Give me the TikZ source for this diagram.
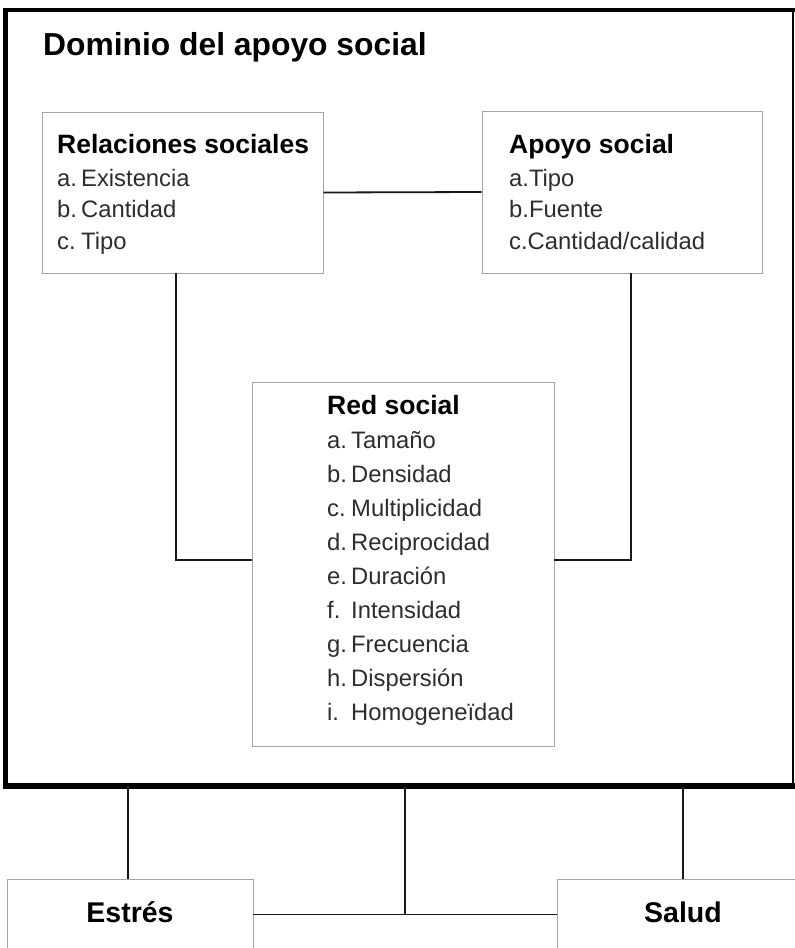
\documentclass[tikz,border=0pt]{standalone}
\usepackage{fontspec}
\setmainfont{Liberation Sans}
\usetikzlibrary{calc}
\definecolor{itemgray}{RGB}{45,45,45}
\definecolor{boxgray}{RGB}{165,165,165}
\definecolor{linecol}{RGB}{25,25,25}
\newcommand{\lbl}[2]{\makebox[24pt][l]{#1}#2}
\begin{document}
\begin{tikzpicture}[x=1pt,y=-1pt,
  box/.style={draw=boxgray, line width=0.9pt, inner sep=0pt},
  titletext/.style={anchor=base west, inner sep=0pt, font=\fontsize{31.8}{36}\selectfont\bfseries},
  headtext/.style={anchor=base west, inner sep=0pt, font=\fontsize{26.5}{30}\selectfont\bfseries},
  itemtext/.style={anchor=base west, inner sep=0pt, text=itemgray, font=\fontsize{23.8}{28}\selectfont},
  conn/.style={draw=linecol, line width=1.8pt},
  endbox/.style={box, font=\fontsize{28.5}{32}\selectfont\bfseries, text height=15pt, text depth=0pt}
]
\useasboundingbox (0,0) rectangle (795,948);
\clip (0,0) rectangle (795,948);

% outer frame
\node[inner sep=0pt, minimum width=787.5pt, minimum height=776pt] (dom) at (399.25,398) {};
\draw[line width=3.5pt, line cap=rect] (dom.north west) -- (dom.north east);
\draw[line width=2.5pt] (dom.north east) -- (dom.south east);
\draw[line width=4.5pt, line cap=rect] (dom.north west) -- (dom.south west);
\draw[line width=5.5pt, line cap=rect] (dom.south west) -- (dom.south east);

\node[titletext] (title) at (43,55) {Dominio del apoyo social};

% boxes
\node[box, minimum width=281pt, minimum height=161pt] (rel) at (182.5,192.5) {};
\node[box, minimum width=280pt, minimum height=162pt] (apo) at (622,192) {};
\node[box, minimum width=302pt, minimum height=364pt] (red) at (403,564) {};

% Relaciones sociales
\node[headtext] (relh) at (57,153) {Relaciones sociales};
\node[itemtext] (rela) at (57,186) {\lbl{a.}{Existencia}};
\node[itemtext] (relb) at (57,217) {\lbl{b.}{Cantidad}};
\node[itemtext] (relc) at (57,249) {\lbl{c.}{Tipo}};

% Apoyo social
\node[headtext] (apoh) at (509,153) {Apoyo social};
\node[itemtext] (apoa) at (509,186) {a.Tipo};
\node[itemtext] (apob) at (509,217) {b.Fuente};
\node[itemtext] (apoc) at (509,249) {c.Cantidad/calidad};

% Red social
\node[headtext] (redh) at (327,414) {Red social};
\node[itemtext] (reda) at (327,448) {\lbl{a.}{Tamaño}};
\node[itemtext] (redb) at (327,482) {\lbl{b.}{Densidad}};
\node[itemtext] (redc) at (327,516) {\lbl{c.}{Multiplicidad}};
\node[itemtext] (redd) at (327,550) {\lbl{d.}{Reciprocidad}};
\node[itemtext] (rede) at (327,584) {\lbl{e.}{Duración}};
\node[itemtext] (redf) at (327,618) {\lbl{f.}{Intensidad}};
\node[itemtext] (redg) at (327,652) {\lbl{g.}{Frecuencia}};
\node[itemtext] (redh8) at (327,686) {\lbl{h.}{Dispersión}};
\node[itemtext] (redi) at (327,720) {\lbl{i.}{Homogeneïdad}};

% connectors inside frame
\draw[conn] (rel.east) -- (apo.west);
\draw[conn] ([xshift=-6.5pt]rel.south) |- ([yshift=4pt]red.west);
\draw[conn] ([xshift=9pt]apo.south) |- ([yshift=4pt]red.east);

% bottom boxes
\node[endbox, minimum width=246pt, minimum height=71pt] (est) at (130,914.5) {Estrés};
\node[endbox, minimum width=252pt, minimum height=71pt] (sal) at (683,914.5) {Salud};

\coordinate (mid) at ($(est.east)!0.5!(sal.west)$);
\draw[conn] (est.east) -- (sal.west);
\draw[conn, line width=1.6pt] ([xshift=-2pt]est.north) -- ([xshift=-2pt]est.north |- dom.south);
\draw[conn, line width=1.6pt] (mid) -- (mid |- dom.south);
\draw[conn, line width=1.6pt] (sal.north) -- (sal.north |- dom.south);
\end{tikzpicture}
\end{document}
